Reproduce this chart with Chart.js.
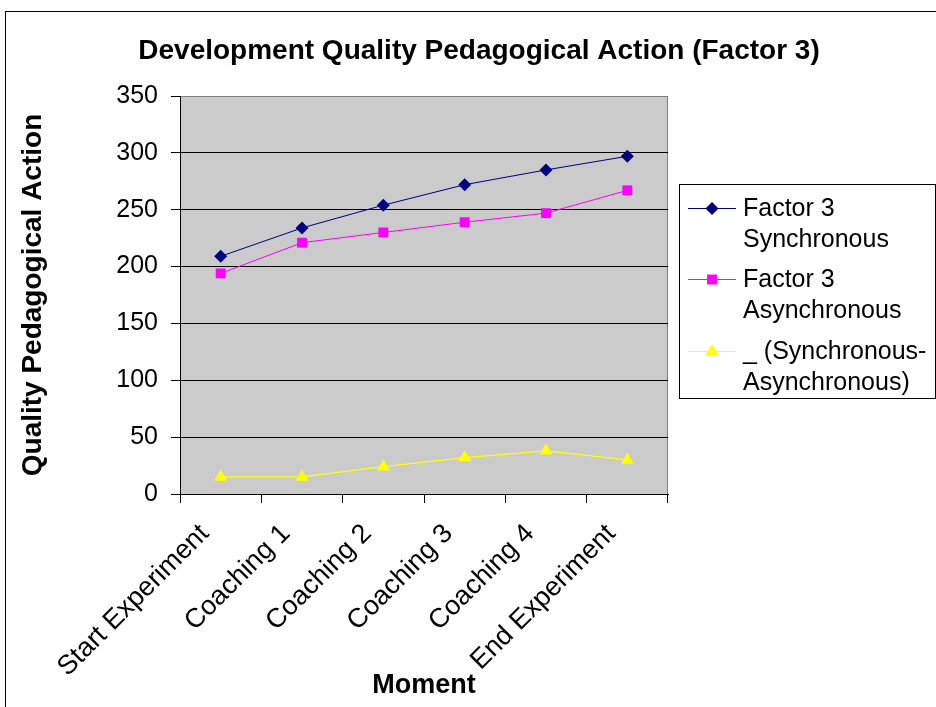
<!DOCTYPE html>
<html>
<head>
<meta charset="utf-8">
<script src="https://cdn.jsdelivr.net/npm/chart.js@4/dist/chart.umd.min.js"></script>
<style>
  html, body { margin: 0; padding: 0; background: #fff; }
  #wrap { width: 936px; height: 707px; }
</style>
</head>
<body>
<div id="wrap"><canvas id="chart" width="936" height="707"></canvas></div>
<script>
// data
const moments = ["Start Experiment", "Coaching 1", "Coaching 2", "Coaching 3", "Coaching 4", "End Experiment"];
const synchronous = [209, 234, 254, 272, 285, 297];
const asynchronous = [194, 221, 230, 239, 247, 267];
const difference = [15, 15, 24, 32, 38, 30];
const legendLines = [["Factor 3", "Synchronous"], ["Factor 3", "Asynchronous"], ["_ (Synchronous-", "Asynchronous)"]];

const FONT = "'Liberation Sans', Arial, sans-serif";

// frame, plot background, title and the legend box
const decor = {
  id: "decor",
  beforeDraw(chart) {
    const ctx = chart.ctx, a = chart.chartArea;
    ctx.save();
    ctx.fillStyle = "#fff";
    ctx.fillRect(0, 0, chart.width, chart.height);
    ctx.strokeStyle = "#000";
    ctx.lineWidth = 1;
    ctx.strokeRect(5.5, 11.5, 1200, 1200);
    ctx.fillStyle = "#cbcbcb";
    ctx.fillRect(a.left, a.top, a.right - a.left, a.bottom - a.top);
    ctx.strokeStyle = "#808080";
    ctx.strokeRect(a.left + 0.5, a.top + 0.5, a.right - a.left - 1, a.bottom - a.top);
    ctx.restore();
  },
  afterDraw(chart) {
    const ctx = chart.ctx;
    ctx.save();
    ctx.fillStyle = "#000";
    ctx.font = "bold 28px " + FONT;
    ctx.textAlign = "center";
    ctx.textBaseline = "middle";
    ctx.fillText("Development Quality Pedagogical Action (Factor 3)", 479, 51);

    // legend
    ctx.strokeStyle = "#000";
    ctx.lineWidth = 1;
    ctx.strokeRect(679.5, 184.5, 256, 214);
    ctx.font = "25px " + FONT;
    ctx.textAlign = "left";
    const rows = [208, 279, 351];
    chart.data.datasets.forEach((ds, i) => {
      const y = rows[i];
      ctx.strokeStyle = ds.borderColor;
      ctx.lineWidth = 1;
      ctx.beginPath();
      ctx.moveTo(688, y + 0.5);
      ctx.lineTo(736, y + 0.5);
      ctx.stroke();
      ctx.fillStyle = ds.pointBackgroundColor;
      ctx.strokeStyle = ds.pointBorderColor;
      Chart.helpers.drawPoint(ctx, { pointStyle: ds.pointStyle, rotation: 0, borderWidth: 0, radius: ds.pointRadius }, 712, y + 0.5);
      ctx.fillStyle = "#000";
      legendLines[i].forEach((t, j) => ctx.fillText(t, 743, y + 1 + j * 31));
    });
    ctx.restore();
  }
};

new Chart(document.getElementById("chart"), {
  type: "line",
  data: {
    labels: moments,
    datasets: [
      {
        label: "Factor 3 Synchronous",
        data: synchronous,
        borderColor: "#000080",
        borderWidth: 1,
        pointStyle: "rectRot",
        pointRadius: 6.5,
        pointBackgroundColor: "#000080",
        pointBorderColor: "#000080",
        pointBorderWidth: 0
      },
      {
        label: "Factor 3 Asynchronous",
        data: asynchronous,
        borderColor: "#ff00ff",
        borderWidth: 1,
        pointStyle: "rect",
        pointRadius: 7,
        pointBackgroundColor: "#ff00ff",
        pointBorderColor: "#ff00ff",
        pointBorderWidth: 0
      },
      {
        label: "_ (Synchronous-Asynchronous)",
        data: difference,
        borderColor: "#ffff00",
        borderWidth: 1.3,
        pointStyle: "triangle",
        pointRadius: 7.5,
        pointBackgroundColor: "#ffff00",
        pointBorderColor: "#ffff00",
        pointBorderWidth: 0
      }
    ]
  },
  options: {
    responsive: false,
    animation: false,
    layout: { padding: { left: 0, top: 96, right: 268, bottom: 0 } },
    plugins: {
      legend: { display: false },
      title: { display: false },
      tooltip: { enabled: false }
    },
    scales: {
      x: {
        offset: true,
        afterFit: (s) => { s.height = 213; },
        grid: { offset: true, drawOnChartArea: false, tickLength: 9, color: "#000" },
        border: { color: "#000" },
        ticks: {
          autoSkip: false, maxRotation: 45, minRotation: 45,
          color: "#000", font: { family: FONT, size: 27 }, padding: 15, labelOffset: -16
        },
        title: {
          display: true, text: "Moment", color: "#000",
          font: { family: FONT, size: 27, weight: "bold" },
          padding: { top: 0, bottom: 5 }
        }
      },
      y: {
        min: 0, max: 350,
        afterFit: (s) => { s.width = 180; },
        grid: {
          color: (c) => (c.tick && c.tick.value === 350 ? "#808080" : "#000"),
          tickColor: "#000", tickLength: 9
        },
        border: { color: "#000" },
        ticks: { stepSize: 50, color: "#000", font: { family: FONT, size: 25 }, padding: 13 },
        title: {
          display: true, text: "Quality Pedagogical Action", color: "#000",
          font: { family: FONT, size: 28, weight: "bold" },
          padding: { top: 16, bottom: 0 }
        }
      }
    }
  },
  plugins: [decor]
});
</script>
</body>
</html>
